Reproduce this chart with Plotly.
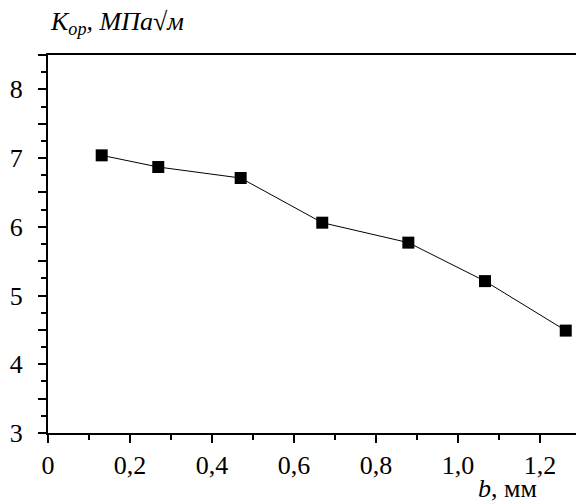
import plotly.graph_objects as go

b_mm = [0.131, 0.269, 0.470, 0.669, 0.879, 1.066, 1.263]
k_op = [7.04, 6.87, 6.71, 6.06, 5.77, 5.21, 4.49]

x_tickvals = [0, 0.2, 0.4, 0.6, 0.8, 1.0, 1.2]
x_ticktext = ["0", "0,2", "0,4", "0,6", "0,8", "1,0", "1,2"]
y_tickvals = [3, 3.5, 4, 4.5, 5, 5.5, 6, 6.5, 7, 7.5, 8, 8.5]
y_ticktext = ["3", " ", "4", " ", "5", " ", "6", " ", "7", " ", "8", " "]

FONT = "Times New Roman"

fig = go.Figure()
fig.add_trace(go.Scatter(
    x=b_mm, y=k_op, mode="lines+markers",
    line=dict(color="black", width=1),
    marker=dict(symbol="square", size=12, color="black"),
    showlegend=False,
))

fig.update_layout(
    width=576, height=502,
    margin=dict(l=48, r=0, t=55, b=69),
    paper_bgcolor="white", plot_bgcolor="white",
    font=dict(family=FONT, size=26, color="black"),
    xaxis=dict(
        range=[0, 1.288], showgrid=False, zeroline=False,
        showline=True, linecolor="black", linewidth=2, mirror=True,
        ticks="outside", ticklen=8, tickwidth=2, tickcolor="black",
        tickvals=x_tickvals, ticktext=x_ticktext,
        minor=dict(dtick=0.1, tick0=0, ticks="outside", ticklen=5, tickwidth=2, tickcolor="black", showgrid=False),
        tickfont=dict(family=FONT, size=26, color="black"),
        ticklabelstandoff=0,
    ),
    yaxis=dict(
        range=[3, 8.5], showgrid=False, zeroline=False,
        showline=True, linecolor="black", linewidth=2, mirror=False,
        ticks="outside", ticklen=8, tickwidth=2, tickcolor="black",
        tickvals=y_tickvals, ticktext=y_ticktext,
        minor=dict(dtick=0.25, tick0=3, ticks="outside", ticklen=5, tickwidth=2, tickcolor="black", showgrid=False),
        tickfont=dict(family=FONT, size=26, color="black"),
        ticklabelstandoff=10,
    ),
    annotations=[
        dict(text="<i>K<sub>op</sub>, МПа√м</i>", xref="paper", yref="paper",
             x=0.0, y=1.0, yshift=14, xanchor="left", yanchor="bottom",
             showarrow=False, font=dict(family=FONT, size=26, color="black")),
        dict(text="<i>b</i>, мм", xref="paper", yref="paper",
             x=0.93, y=0, yshift=-72, xanchor="right", yanchor="bottom",
             showarrow=False, font=dict(family=FONT, size=26, color="black")),
    ],
)

fig.write_html("out.html")
